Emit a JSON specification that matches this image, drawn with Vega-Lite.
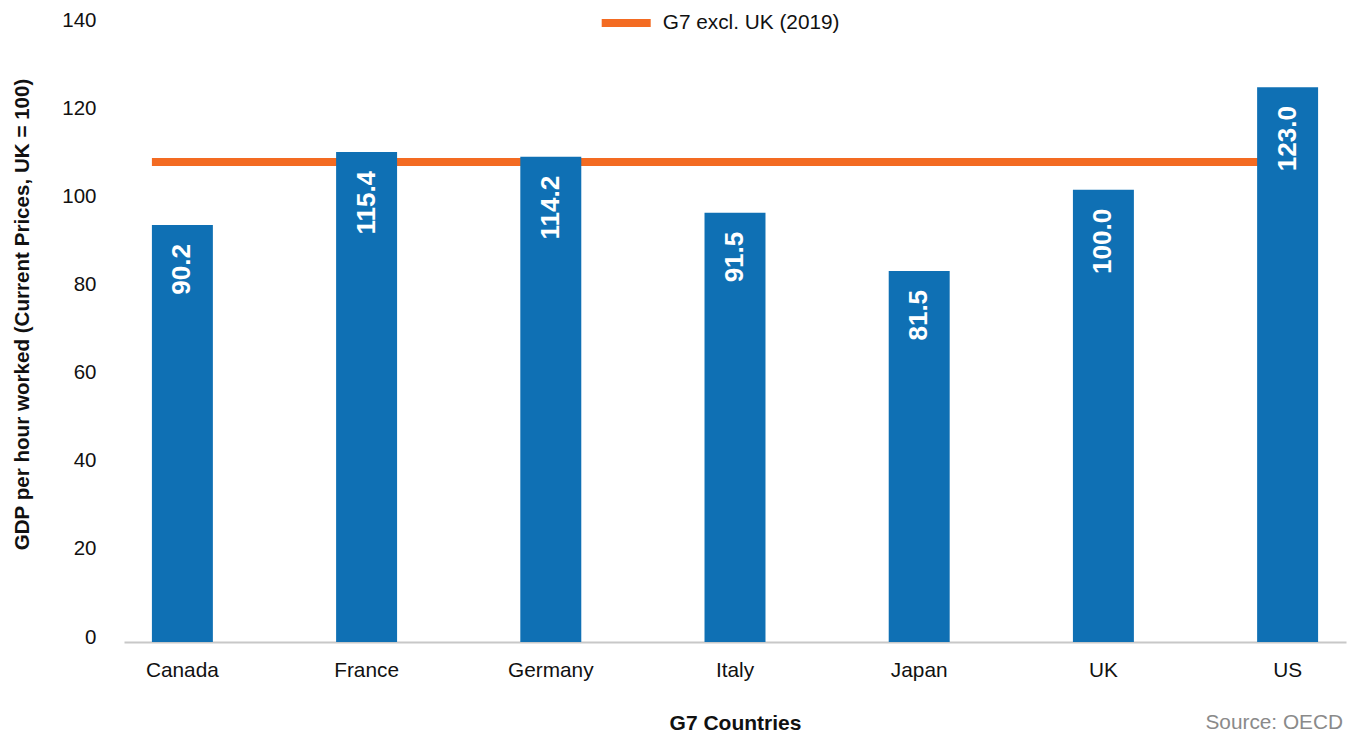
{
  "$schema": "https://vega.github.io/schema/vega-lite/v6.json",
  "width": 1222,
  "height": 617,
  "autosize": {"type": "none"},
  "padding": {"left": 124, "top": 25, "right": 10, "bottom": 96},
  "background": "white",
  "config": {"view": {"stroke": null}, "font": "Liberation Sans"},
  "title": {
    "text": "Source: OECD",
    "orient": "bottom",
    "anchor": "end",
    "frame": "group",
    "fontSize": 20.8,
    "fontWeight": "normal",
    "color": "#8A8A8A",
    "font": "Liberation Sans",
    "baseline": "alphabetic",
    "offset": 0,
    "dy": -4,
    "dx": -3
  },
  "data": {
    "values": [
      {"country": "Canada", "value": 94.6, "label": "90.2"},
      {"country": "France", "value": 111.2, "label": "115.4"},
      {"country": "Germany", "value": 110.1, "label": "114.2"},
      {"country": "Italy", "value": 97.4, "label": "91.5"},
      {"country": "Japan", "value": 84.2, "label": "81.5"},
      {"country": "UK", "value": 102.6, "label": "100.0"},
      {"country": "US", "value": 125.9, "label": "123.0"}
    ]
  },
  "layer": [
    {
      "data": {"values": [{"from": "Canada", "to": "US", "level": 108.9, "series": "G7 excl. UK (2019)"}]},
      "mark": {"type": "rule", "strokeWidth": 8},
      "encoding": {
        "x": {"field": "from", "type": "nominal", "bandPosition": 0, "axis": {"bandPosition": 0.5}},
        "x2": {"field": "to"},
        "y": {"field": "level", "type": "quantitative"},
        "stroke": {
          "field": "series",
          "type": "nominal",
          "scale": {"range": ["#F36B22"]},
          "legend": {
            "title": null,
            "orient": "none",
            "legendX": 473.7,
            "legendY": -30.5,
            "symbolType": "stroke",
            "symbolSize": 2401,
            "symbolStrokeWidth": 8,
            "labelFontSize": 20.8,
            "labelFont": "Liberation Sans",
            "labelOffset": 8,
            "labelLimit": 400,
            "labelColor": "#111111",
            "padding": 0
          }
        }
      }
    },
    {
      "mark": {"type": "bar", "color": "#0F70B4"},
      "encoding": {
        "x": {
          "field": "country",
          "type": "nominal",
          "scale": {
            "domain": ["Canada", "France", "Germany", "Italy", "Japan", "UK", "US"],
            "paddingInner": 0.669,
            "paddingOuter": 0.1515
          },
          "axis": {
            "bandPosition": 0.5,
            "title": "G7 Countries",
            "labelAngle": 0,
            "labelAlign": "center",
            "ticks": false,
            "tickSize": 0,
            "domainColor": "#C8C8C8",
            "domainWidth": 2,
            "labelFontSize": 20.8,
            "labelFont": "Liberation Sans",
            "labelColor": "#111111",
            "labelPadding": 34,
            "labelBaseline": "alphabetic",
            "titleFontSize": 21,
            "titleFont": "Liberation Sans",
            "titleFontWeight": "bold",
            "titleColor": "#111111",
            "titleBaseline": "alphabetic",
            "titleY": 87
          }
        },
        "y": {
          "field": "value",
          "type": "quantitative",
          "scale": {"domain": [0, 140], "nice": false},
          "axis": {
            "values": [0, 20, 40, 60, 80, 100, 120, 140],
            "title": "GDP per hour worked (Current Prices, UK = 100)",
            "grid": false,
            "domain": false,
            "ticks": false,
            "tickSize": 0,
            "labelPadding": 28,
            "labelFontSize": 20.5,
            "labelFont": "Liberation Sans",
            "labelColor": "#111111",
            "labelBaseline": "alphabetic",
            "labelOffset": 1,
            "titleFontSize": 20.6,
            "titleFont": "Liberation Sans",
            "titleFontWeight": "bold",
            "titleColor": "#111111",
            "titleX": -102,
            "titleY": 289,
            "titleAngle": -90,
            "titleAlign": "center",
            "titleBaseline": "middle"
          }
        }
      }
    },
    {
      "mark": {
        "type": "text",
        "angle": 270,
        "align": "right",
        "baseline": "middle",
        "dx": -19,
        "color": "white",
        "fontSize": 26,
        "fontWeight": "bold",
        "font": "Liberation Sans"
      },
      "encoding": {
        "x": {"field": "country", "type": "nominal"},
        "y": {"field": "value", "type": "quantitative"},
        "text": {"field": "label"}
      }
    }
  ]
}
